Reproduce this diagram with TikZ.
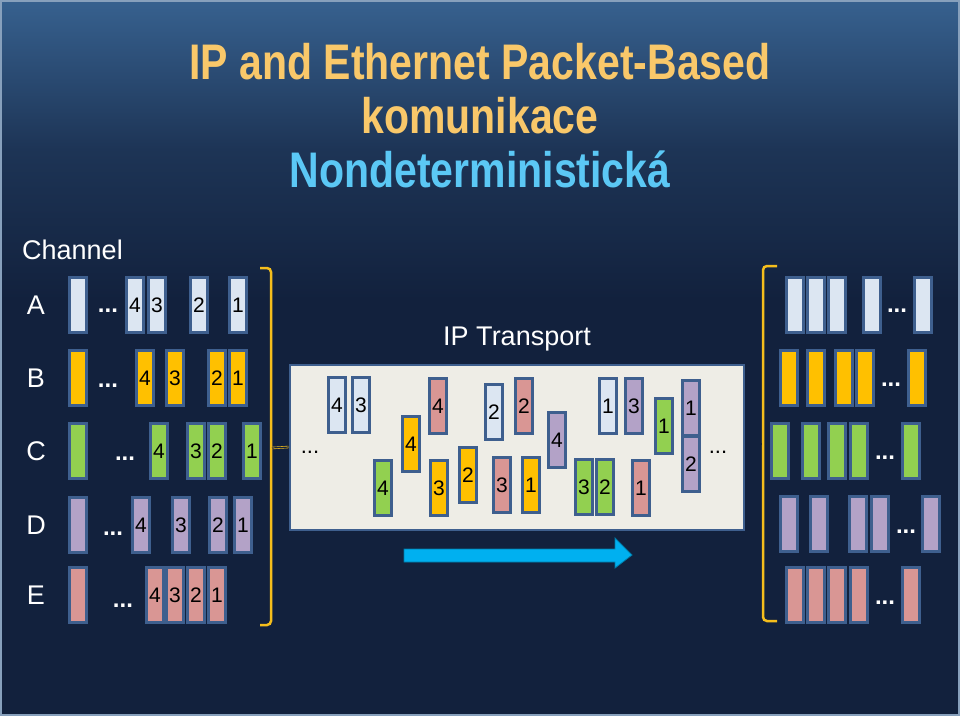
\documentclass[tikz,border=0pt]{standalone}
\usepackage{fontspec}
\setmainfont{Liberation Sans}
\begin{document}
\begin{tikzpicture}[x=1pt,y=-1pt,
  pk/.style={draw=pkb,line width=2.2pt,minimum width=17pt,minimum height=55pt,inner sep=0pt,font=\fontsize{21}{21}\selectfont,text=black},
  dotsw/.style={text=white,font=\bfseries\fontsize{24}{24}\selectfont,inner sep=0pt},
  dotsb/.style={text=black,font=\bfseries\fontsize{22}{22}\selectfont,inner sep=0pt},
  lbl/.style={text=white,font=\fontsize{27}{27}\selectfont,inner sep=0pt},
  brk/.style={draw=brkc,line width=2.5pt,rounded corners=4pt}]
\definecolor{pkb}{HTML}{3E5F8E}
\definecolor{cA}{HTML}{DCE6F2}
\definecolor{cB}{HTML}{FFC000}
\definecolor{cC}{HTML}{92D050}
\definecolor{cD}{HTML}{B3A2C7}
\definecolor{cE}{HTML}{D99694}
\definecolor{brkc}{HTML}{F5BE1C}
\definecolor{topc}{HTML}{37618F}
\definecolor{botc}{HTML}{12213D}
\definecolor{ttl}{HTML}{F9C86A}
\definecolor{sub}{HTML}{5BC8F5}
\definecolor{boxf}{HTML}{EEEDE6}
\definecolor{arr}{HTML}{00B0F0}
\useasboundingbox (0,0) rectangle (960,716);
\shade[top color=topc,bottom color=botc,middle color=botc!70!topc] (0,0) rectangle (960,300);
\fill[botc] (0,299) rectangle (960,716);
\draw[white!40!topc,line width=1.5pt] (1,1) rectangle (959,715);
% titles
\node[text=ttl,font=\bfseries\fontsize{50}{50}\selectfont,xscale=0.82] (t1) at (480,62) {IP and Ethernet Packet-Based};
\node[text=ttl,font=\bfseries\fontsize{50}{50}\selectfont,xscale=0.82] (t2) at (480,116) {komunikace};
\node[text=sub,font=\bfseries\fontsize{50}{50}\selectfont,xscale=0.82] (t3) at (480,169) {Nondeterministická};
\node[lbl,anchor=west] (ch) at (22,250) {Channel};
\foreach \r/\y in {A/305,B/378,C/451,D/525,E/595} \node[lbl] (L\r) at (36,\y) {\r};
% left packets
\foreach \n/\x/\y/\c/\t in {
 a0/78/305/cA/,a4/135/305/cA/4,a3/157/305/cA/3,a2/199/305/cA/2,a1/238/305/cA/1,
 b0/78/378/cB/,b4/145/378/cB/4,b3/175/378/cB/3,b2/217/378/cB/2,b1/238/378/cB/1,
 c0/78/451/cC/,c4/159/451/cC/4,c3/196/451/cC/3,c2/217/451/cC/2,c1/252/451/cC/1,
 d0/78/525/cD/,d4/141/525/cD/4,d3/181/525/cD/3,d2/218/525/cD/2,d1/243/525/cD/1,
 e0/78/595/cE/,e4/155/595/cE/4,e3/175/595/cE/3,e2/196/595/cE/2,e1/217/595/cE/1}
 \node[pk,fill=\c] (l\n) at (\x,\y) {\t};
\foreach \n/\x/\y in {a/108/311,b/108/386,c/125/459,d/113/534,e/123/606}
 \node[dotsw] (ld\n) at (\x,\y) {...};
% left bracket
\draw[brk] (260,268) -- (271,268) -- (271,625) -- (260,625);
\coordinate (bl) at (272,448);
% middle box
\node[draw=pkb,line width=2pt,fill=boxf,minimum width=454pt,minimum height=165pt,inner sep=0pt] (box) at (516.5,447) {};
\draw[brkc,double=botc,line width=0.6pt,double distance=1.2pt] (bl) -- (box.west);
\node[lbl] (ipt) at (517,339) {IP Transport};
\foreach \n/\x/\y/\c/\t in {
 m1/337/405/cA/4,m2/361/405/cA/3,m3/383/488/cC/4,m4/411/444/cB/4,m5/438/406/cE/4,
 m6/439/488/cB/3,m7/468/475/cB/2,m8/494/412/cA/2,m9/524/406/cE/2,m10/502/485/cE/3,
 m11/531/485/cB/1,m12/557/440/cD/4,m13/584/487/cC/3,m14/605/487/cC/2,m15/608/406/cA/1,
 m16/634/406/cD/3,m17/664/426/cC/1,m18/641/488/cE/1,m19/691/408/cD/1,m20/691/464/cD/2}
 \node[pk,fill=\c] (\n) at (\x,\y) {\t};
\node[dotsb,font=\fontsize{22}{22}\selectfont] (md1) at (310,452) {...};
\node[dotsb,font=\fontsize{22}{22}\selectfont] (md2) at (718,452) {...};
% arrow
\draw[draw=arr!70!black,fill=arr,line width=0.8pt] (404,549) -- (615,549) -- (615,538) -- (632,555) -- (615,568) -- (615,562) -- (404,562) -- cycle;
% right bracket
\draw[brk] (777,266) -- (763,266) -- (763,621) -- (777,621);
\coordinate (br) at (762,444);
\draw[brkc,double=botc,line width=0.6pt,double distance=1.2pt] (box.east |- br) -- (br);
% right packets
\foreach \n/\x/\y/\c in {
 a1/795/305/cA,a2/816/305/cA,a3/837/305/cA,a4/872/305/cA,a5/923/305/cA,
 b1/789/378/cB,b2/816/378/cB,b3/844/378/cB,b4/865/378/cB,b5/917/378/cB,
 c1/780/451/cC,c2/811/451/cC,c3/837/451/cC,c4/859/451/cC,c5/911/451/cC,
 d1/789/524/cD,d2/819/524/cD,d3/858/524/cD,d4/880/524/cD,d5/931/524/cD,
 e1/795/595/cE,e2/816/595/cE,e3/837/595/cE,e4/859/595/cE,e5/911/595/cE}
 \node[pk,fill=\c] (r\n) at (\x,\y) {};
\foreach \n/\x/\y in {a/897/311,b/891/385,c/885/458,d/906/532,e/885/603}
 \node[dotsw] (rd\n) at (\x,\y) {...};
\end{tikzpicture}
\end{document}
